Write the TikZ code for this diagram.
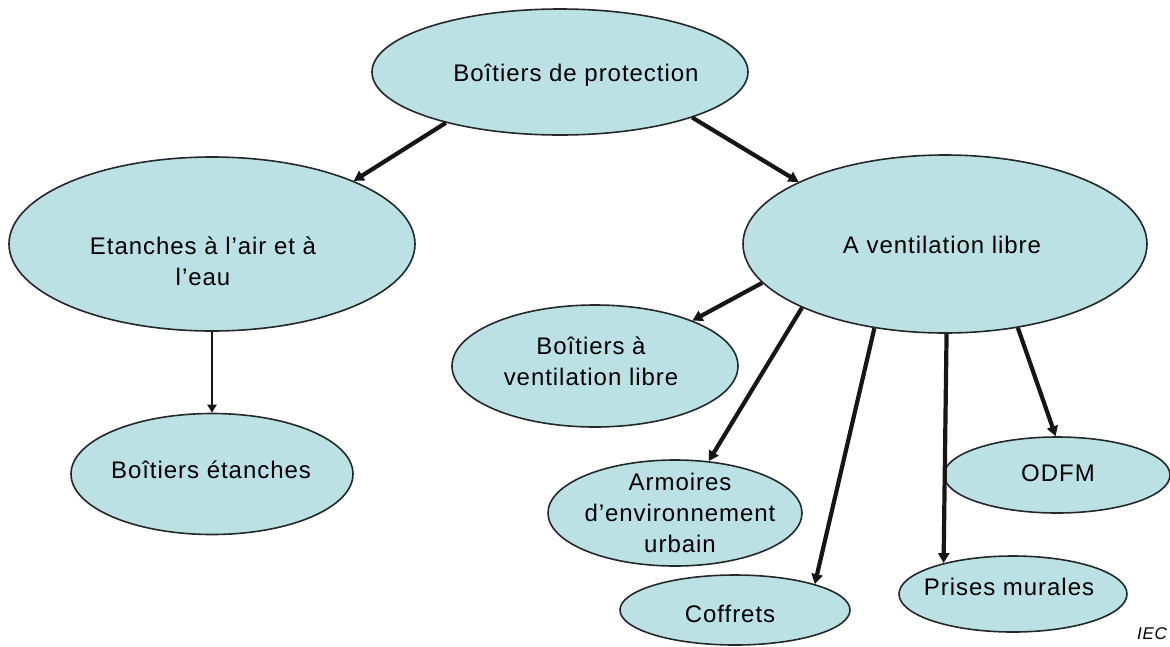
\documentclass[tikz,border=0pt]{standalone}
\usepackage{fontspec}
\setmainfont{Liberation Sans}[LetterSpace=4]
\usetikzlibrary{shapes.geometric,arrows.meta}
\definecolor{ellfill}{RGB}{187,225,229}
\definecolor{ellline}{RGB}{35,40,40}
\definecolor{arrcol}{RGB}{22,22,22}
\begin{document}
\begin{tikzpicture}[x=1pt,y=-1pt,
  bubble/.style={ellipse,draw=ellline,fill=ellfill,line width=1.6pt,inner sep=0pt},
  txt/.style={align=center,inner sep=0pt,font=\fontsize{24}{31}\selectfont},
  link/.style={draw=arrcol,line width=4.2pt,-{Triangle[length=10pt,width=11pt]}},
  thinlink/.style={draw=arrcol,line width=2.2pt,-{Triangle[length=8pt,width=9pt]}}]
\useasboundingbox (0,0) rectangle (1170,646);
% ellipses
\node[bubble,minimum width=376pt,minimum height=126pt] (top) at (560,72) {};
\node[bubble,minimum width=406pt,minimum height=174pt] (eta) at (212,244) {};
\node[bubble,minimum width=404pt,minimum height=178pt] (avl) at (945,244) {};
\node[bubble,minimum width=282pt,minimum height=121pt] (bet) at (212,474) {};
\node[bubble,minimum width=286pt,minimum height=122pt] (bvl) at (595,366) {};
\node[bubble,minimum width=254pt,minimum height=106pt] (arm) at (675,513) {};
\node[bubble,minimum width=230pt,minimum height=70pt] (cof) at (735,610) {};
\node[bubble,minimum width=226pt,minimum height=76pt] (odfm) at (1057,475) {};
\node[bubble,minimum width=228pt,minimum height=76pt] (pm) at (1013,594) {};
% texts
\node[txt] (top-t) at (576,75) {Boîtiers de protection};
\node[txt] (eta-t) at (203,261) {Etanches à l’air et à\\l’eau};
\node[txt] (avl-t) at (942,245) {A ventilation libre};
\node[txt] (bet-t) at (211,470) {Boîtiers étanches};
\node[txt] (bvl-t) at (591,361) {Boîtiers à\\ventilation libre};
\node[txt] (arm-t) at (680,513) {Armoires\\d’environnement\\urbain};
\node[txt] (cof-t) at (730,614) {Coffrets};
\node[txt] (odfm-t) at (1058,473) {ODFM};
\node[txt] (pm-t) at (1009,587) {Prises murales};
\node[anchor=east,inner sep=0pt,font=\fontsize{17}{19}\selectfont\itshape] (iec) at (1167,634) {IEC};
% connectors
\draw[link] (top.204) -- (eta.24.4);
\draw[link] (top.341.8) -- (avl.157.1);
\draw[thinlink] (eta.south) -- (bet.north);
\draw[link] (avl.192.1) -- (bvl.25.4);
\draw[link] (avl.204.8) -- (arm.57.5);
\draw[link] (avl.230.1) -- (cof.18.9);
\draw[link] (avl.271.3) -- (pm.156.3);
\draw[link] (avl.311.8) -- (odfm.92.8);
\end{tikzpicture}
\end{document}
